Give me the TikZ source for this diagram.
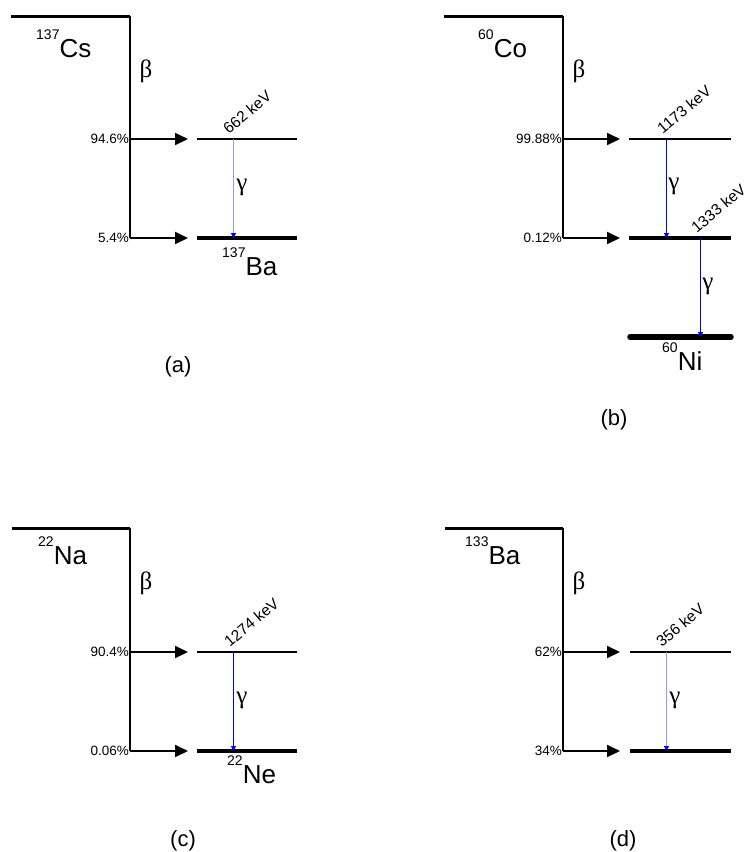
\documentclass[tikz,border=0pt]{standalone}
\usepackage{fontspec}
\setmainfont{Liberation Sans}
\newfontfamily\greekfont{Liberation Serif}
\usetikzlibrary{arrows.meta}
\definecolor{gblue}{RGB}{0,0,255}
\definecolor{lblue}{RGB}{150,150,255}
\tikzset{
  parentlvl/.style={line width=3pt},
  decayline/.style={line width=2pt},
  feed/.style={line width=2pt, -{Triangle[length=13pt,width=12pt]}},
  upperlvl/.style={line width=2pt},
  lowerlvl/.style={line width=3.5pt},
  groundlvl/.style={line width=5.5pt, line cap=round},
  gam/.style={line width=1.1pt, -{Triangle[length=5pt,width=5pt,color=gblue]}},
  pct/.style={anchor=east, inner sep=1pt, font=\fontsize{13.5}{13.5}\selectfont},
  ener/.style={anchor=south west, inner sep=0pt, rotate=40, font=\fontsize{15.5}{15.5}\selectfont},
  iso/.style={anchor=base west, inner sep=0pt, font=\fontsize{26}{26}\selectfont},
  greeklab/.style={inner sep=0pt, font=\greekfont\fontsize{25}{25}\selectfont},
  panellab/.style={inner sep=0pt, font=\fontsize{22}{22}\selectfont},
}
\newcommand{\isosup}[1]{\raisebox{18pt}{\fontsize{14}{14}\selectfont #1}}
\begin{document}
\begin{tikzpicture}[x=1pt,y=-1pt]
\useasboundingbox (0,0) rectangle (747,852);

% ---------- (a) 137Cs ----------
\coordinate (a-t0) at (11,16);
\coordinate (a-t1) at (130,16);
\coordinate (a-u) at (130,139);
\coordinate (a-l) at (130,238);
\coordinate (a-ua) at (188,139);
\coordinate (a-la) at (188,238);
\coordinate (a-u0) at (197,139);
\coordinate (a-u1) at (297,139);
\coordinate (a-l0) at (197,238);
\coordinate (a-l1) at (297,238);
\coordinate (a-g0) at (233.5,139);
\coordinate (a-g1) at (233.5,238);
\draw[parentlvl] (a-t0) -- (a-t1);
\draw[decayline] (a-t1) -- (a-l);
\draw[feed] (a-u) -- (a-ua);
\draw[feed] (a-l) -- (a-la);
\draw[upperlvl] (a-u0) -- (a-u1);
\draw[lowerlvl] (a-l0) -- (a-l1);
\draw[gam, lblue, line width=1.4pt] (a-g0) -- (a-g1);
\node[iso] (a-par) at (36,57) {\isosup{137}Cs};
\node[greeklab] (a-beta) at (146,71) {β};
\node[pct] (a-p1) at (130,139) {94.6\%};
\node[pct] (a-p2) at (130,238) {5.4\%};
\node[ener] (a-e) at (229,135) {662 keV};
\node[greeklab] (a-gam) at (242,187) {γ};
\node[iso] (a-dau) at (222,275) {\isosup{137}Ba};
\node[panellab] (a-lab) at (178,367) {(a)};

% ---------- (b) 60Co ----------
\coordinate (b-t0) at (444,16);
\coordinate (b-t1) at (563,16);
\coordinate (b-u) at (563,139);
\coordinate (b-l) at (563,238);
\coordinate (b-ua) at (620,139);
\coordinate (b-la) at (620,238);
\coordinate (b-u0) at (629,139);
\coordinate (b-u1) at (731,139);
\coordinate (b-l0) at (629,238);
\coordinate (b-l1) at (731,238);
\coordinate (b-n0) at (630,337);
\coordinate (b-n1) at (731,337);
\coordinate (b-g0) at (666.5,139);
\coordinate (b-g1) at (666.5,238);
\coordinate (b-h0) at (700.5,238);
\coordinate (b-h1) at (700.5,337);
\draw[parentlvl] (b-t0) -- (b-t1);
\draw[decayline] (b-t1) -- (b-l);
\draw[feed] (b-u) -- (b-ua);
\draw[feed] (b-l) -- (b-la);
\draw[upperlvl] (b-u0) -- (b-u1);
\draw[lowerlvl] (b-l0) -- (b-l1);
\draw[groundlvl] (b-n0) -- (b-n1);
\draw[gam, gblue] (b-g0) -- (b-g1);
\draw[gam, gblue] (b-h0) -- (b-h1);
\node[iso] (b-par) at (478,57) {\isosup{60}Co};
\node[greeklab] (b-beta) at (579,71) {β};
\node[pct] (b-p1) at (563,139) {99.88\%};
\node[pct] (b-p2) at (563,238) {0.12\%};
\node[ener] (b-e1) at (663,135) {1173 keV};
\node[ener] (b-e2) at (697,234) {1333 keV};
\node[greeklab] (b-gam1) at (674,186) {γ};
\node[greeklab] (b-gam2) at (708,286) {γ};
\node[iso] (b-dau) at (662,370) {\isosup{60}Ni};
\node[panellab] (b-lab) at (614,420) {(b)};

% ---------- (c) 22Na ----------
\coordinate (c-t0) at (12,528);
\coordinate (c-t1) at (130,528);
\coordinate (c-u) at (130,652);
\coordinate (c-l) at (130,751);
\coordinate (c-ua) at (188,652);
\coordinate (c-la) at (188,751);
\coordinate (c-u0) at (197,652);
\coordinate (c-u1) at (297,652);
\coordinate (c-l0) at (197,751);
\coordinate (c-l1) at (297,751);
\coordinate (c-g0) at (233.5,652);
\coordinate (c-g1) at (233.5,751);
\draw[parentlvl] (c-t0) -- (c-t1);
\draw[decayline] (c-t1) -- (c-l);
\draw[feed] (c-u) -- (c-ua);
\draw[feed] (c-l) -- (c-la);
\draw[upperlvl] (c-u0) -- (c-u1);
\draw[lowerlvl] (c-l0) -- (c-l1);
\draw[gam, gblue] (c-g0) -- (c-g1);
\node[iso] (c-par) at (38,564) {\isosup{22}Na};
\node[greeklab] (c-beta) at (146,583) {β};
\node[pct] (c-p1) at (130,652) {90.4\%};
\node[pct] (c-p2) at (130,751) {0.06\%};
\node[ener] (c-e) at (230,648) {1274 keV};
\node[greeklab] (c-gam) at (242,700) {γ};
\node[iso] (c-dau) at (227,783) {\isosup{22}Ne};
\node[panellab] (c-lab) at (183,841) {(c)};

% ---------- (d) 133Ba ----------
\coordinate (d-t0) at (445,528);
\coordinate (d-t1) at (563,528);
\coordinate (d-u) at (563,652);
\coordinate (d-l) at (563,751);
\coordinate (d-ua) at (620,652);
\coordinate (d-la) at (620,751);
\coordinate (d-u0) at (630,652);
\coordinate (d-u1) at (731,652);
\coordinate (d-l0) at (630,751);
\coordinate (d-l1) at (731,751);
\coordinate (d-g0) at (666.5,652);
\coordinate (d-g1) at (666.5,751);
\draw[parentlvl] (d-t0) -- (d-t1);
\draw[decayline] (d-t1) -- (d-l);
\draw[feed] (d-u) -- (d-ua);
\draw[feed] (d-l) -- (d-la);
\draw[upperlvl] (d-u0) -- (d-u1);
\draw[lowerlvl] (d-l0) -- (d-l1);
\draw[gam, lblue, line width=1.4pt] (d-g0) -- (d-g1);
\node[iso] (d-par) at (465,564) {\isosup{133}Ba};
\node[greeklab] (d-beta) at (579,583) {β};
\node[pct] (d-p1) at (563,652) {62\%};
\node[pct] (d-p2) at (563,751) {34\%};
\node[ener] (d-e) at (662,648) {356 keV};
\node[greeklab] (d-gam) at (675,700) {γ};
\node[panellab] (d-lab) at (623,841) {(d)};
\end{tikzpicture}
\end{document}
